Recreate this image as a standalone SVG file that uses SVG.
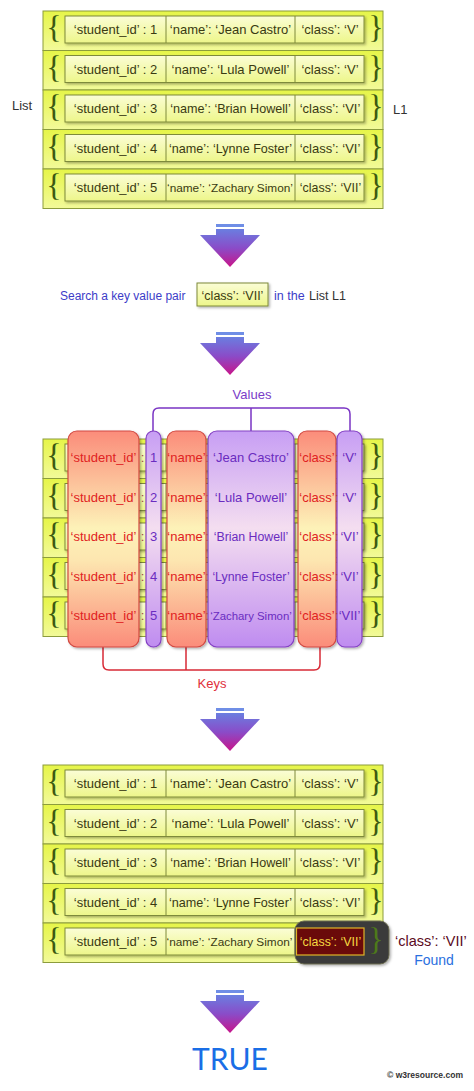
<svg xmlns="http://www.w3.org/2000/svg" width="474" height="1091" viewBox="0 0 474 1091">
<defs>
<linearGradient id="gRow" x1="0" y1="0" x2="0" y2="1"><stop offset="0" stop-color="#e6f548"/><stop offset="1" stop-color="#f2fa9a"/></linearGradient>
<linearGradient id="gCell" x1="0" y1="0" x2="0" y2="1"><stop offset="0" stop-color="#fbfdd6"/><stop offset="1" stop-color="#edf68a"/></linearGradient>
<linearGradient id="gArrow" x1="0" y1="0" x2="0" y2="1"><stop offset="0" stop-color="#6a7ee0"/><stop offset="0.5" stop-color="#8a4cc8"/><stop offset="1" stop-color="#c8148a"/></linearGradient>
<linearGradient id="gKey" x1="0" y1="0" x2="0" y2="1"><stop offset="0" stop-color="#fb8c7a"/><stop offset="0.45" stop-color="#fdf2b8"/><stop offset="0.6" stop-color="#fde6b0"/><stop offset="1" stop-color="#fb8c7a"/></linearGradient>
<linearGradient id="gVal" x1="0" y1="0" x2="0" y2="1"><stop offset="0" stop-color="#c79ef4"/><stop offset="0.45" stop-color="#f4def0"/><stop offset="1" stop-color="#bf8cf0"/></linearGradient>
<filter id="sh" x="-10%" y="-10%" width="130%" height="140%"><feDropShadow dx="1.5" dy="1.5" stdDeviation="1.2" flood-color="#000" flood-opacity="0.3"/></filter>
<g id="arrow">
<rect x="216" y="0" width="28" height="3" fill="#6f8ee6"/>
<path d="M216,5 H244 V11 H260 L230,43 L200,11 H216 Z" fill="url(#gArrow)"/>
</g>
<g id="rowbg">
<rect class="row" x="43" y="0" width="340" height="39.5"/>
<rect class="cell" x="65" y="5" width="299" height="27" filter="url(#sh)"/>
<line class="dv" x1="166" y1="5" x2="166" y2="32"/>
<line class="dv" x1="295" y1="5" x2="295" y2="32"/>
<text class="br" x="54" y="27">{</text>
<text class="br" x="376" y="27">}</text>
</g>
</defs>
<style>
text{font-family:"Liberation Sans",Arial,sans-serif;font-size:13px}
.row{fill:url(#gRow);stroke:#8c9c3c;stroke-width:1}
.cell{fill:url(#gCell);stroke:#7e8a3a;stroke-width:1}
.dv{stroke:#7e8a3a;stroke-width:1}
.br{font-family:"Liberation Serif","Times New Roman",serif;font-size:32px;fill:#3c5a12;text-anchor:middle}
.t{fill:#3a3a12;text-anchor:middle}
.sm{font-size:11.8px}
.lbl{fill:#333}
.blue{fill:#3c3cc8}
.key{fill:url(#gKey);stroke:#d24a42;stroke-width:1.2}
.val{fill:url(#gVal);stroke:#8440c4;stroke-width:1.2}
.kt{fill:#e02222;text-anchor:middle}
.vt{fill:#6a2cc0;text-anchor:middle}
.cl{fill:#a04848;text-anchor:middle}
.kb{fill:none;stroke:#d82a36;stroke-width:1.5}
.vb{fill:none;stroke:#7a34c4;stroke-width:1.5}
</style>

<g id="list1">
<g id="r1-1" transform="translate(0,11)"><use href="#rowbg"/><text class="t" x="115.5" y="23">‘student_id’ : 1</text><text class="t" x="230.5" y="23">‘name’: ‘Jean Castro’</text><text class="t" x="330" y="23">‘class’: ‘V’</text></g>
<g id="r1-2" transform="translate(0,50.5)"><use href="#rowbg"/><text class="t" x="115.5" y="23">‘student_id’ : 2</text><text class="t" x="230.5" y="23">‘name’: ‘Lula Powell’</text><text class="t" x="330" y="23">‘class’: ‘V’</text></g>
<g id="r1-3" transform="translate(0,90)"><use href="#rowbg"/><text class="t" x="115.5" y="23">‘student_id’ : 3</text><text class="t" x="230.5" y="23" style="font-size:12.6px">‘name’: ‘Brian Howell’</text><text class="t" x="330" y="23">‘class’: ‘VI’</text></g>
<g id="r1-4" transform="translate(0,129.5)"><use href="#rowbg"/><text class="t" x="115.5" y="23">‘student_id’ : 4</text><text class="t" x="230.5" y="23" style="font-size:12.6px">‘name’: ‘Lynne Foster’</text><text class="t" x="330" y="23">‘class’: ‘VI’</text></g>
<g id="r1-5" transform="translate(0,169)"><use href="#rowbg"/><text class="t" x="115.5" y="23">‘student_id’ : 5</text><text class="t sm" x="230" y="23">‘name’: ‘Zachary Simon’</text><text class="t" x="330.5" y="23" style="font-size:12.4px">‘class’: ‘VII’</text></g>
<text id="lblList" class="lbl" x="12" y="110">List</text>
<text id="lblL1" class="lbl" x="393" y="114">L1</text>
</g>

<g id="connectors">
<use href="#arrow" transform="translate(0,224)"/>
<use href="#arrow" transform="translate(0,332)"/>
<use href="#arrow" transform="translate(0,708)"/>
<use href="#arrow" transform="translate(0,990)"/>
<path class="vb" d="M153,432 V414 Q153,408 159,408 H344 Q350,408 350,414 V432 M251,408 V432"/>
<path class="kb" d="M103,647 V664 Q103,670 109,670 H314 Q320,670 320,664 V647 M186,647 V670"/>
</g>

<g id="search">
<text class="blue" x="60" y="300" style="font-size:12px">Search a key value pair</text>
<rect x="197" y="283" width="71" height="23" fill="url(#gCell)" stroke="#7e8a3a" filter="url(#sh)"/>
<text class="t" x="232.5" y="299.5" style="font-size:12.5px">‘class’: ‘VII’</text>
<text class="blue" x="274" y="300" style="font-size:12.5px">in the</text>
<text class="lbl" x="309" y="300" style="font-size:12.5px">List L1</text>
</g>

<g id="split">
<use href="#rowbg" transform="translate(0,439)"/>
<use href="#rowbg" transform="translate(0,478.5)"/>
<use href="#rowbg" transform="translate(0,518)"/>
<use href="#rowbg" transform="translate(0,557.5)"/>
<use href="#rowbg" transform="translate(0,597)"/>
<g id="colKey1"><rect class="key" x="68" y="431" width="71" height="216" rx="9" filter="url(#sh)"/></g>
<g id="colVal1"><rect class="val" x="146" y="431" width="15" height="216" rx="7.5" filter="url(#sh)"/></g>
<g id="colKey2"><rect class="key" x="167" y="431" width="39" height="216" rx="9" filter="url(#sh)"/></g>
<g id="colVal2"><rect class="val" x="208" y="431" width="86" height="216" rx="9" filter="url(#sh)"/></g>
<g id="colKey3"><rect class="key" x="298" y="431" width="38" height="216" rx="9" filter="url(#sh)"/></g>
<g id="colVal3"><rect class="val" x="337" y="431" width="25" height="216" rx="8" filter="url(#sh)"/></g>
<g id="splitText">
<text class="kt" x="103.5" y="462">‘student_id’</text><text class="cl" x="142.5" y="462">:</text><text class="vt" x="153.5" y="462">1</text><text class="kt" x="186.5" y="462">‘name’</text><text class="cl" x="207" y="462">:</text><text class="vt" x="251" y="462">‘Jean Castro’</text><text class="kt" x="317" y="462">‘class’</text><text class="cl" x="336.5" y="462">:</text><text class="vt" x="349.5" y="462">‘V’</text>
<text class="kt" x="103.5" y="501.5">‘student_id’</text><text class="cl" x="142.5" y="501.5">:</text><text class="vt" x="153.5" y="501.5">2</text><text class="kt" x="186.5" y="501.5">‘name’</text><text class="cl" x="207" y="501.5">:</text><text class="vt" x="251" y="501.5">‘Lula Powell’</text><text class="kt" x="317" y="501.5">‘class’</text><text class="cl" x="336.5" y="501.5">:</text><text class="vt" x="349.5" y="501.5">‘V’</text>
<text class="kt" x="103.5" y="541">‘student_id’</text><text class="cl" x="142.5" y="541">:</text><text class="vt" x="153.5" y="541">3</text><text class="kt" x="186.5" y="541">‘name’</text><text class="cl" x="207" y="541">:</text><text class="vt" x="251" y="541" style="font-size:12.3px">‘Brian Howell’</text><text class="kt" x="317" y="541">‘class’</text><text class="cl" x="336.5" y="541">:</text><text class="vt" x="349.5" y="541">‘VI’</text>
<text class="kt" x="103.5" y="580.5">‘student_id’</text><text class="cl" x="142.5" y="580.5">:</text><text class="vt" x="153.5" y="580.5">4</text><text class="kt" x="186.5" y="580.5">‘name’</text><text class="cl" x="207" y="580.5">:</text><text class="vt" x="251" y="580.5" style="font-size:12.3px">‘Lynne Foster’</text><text class="kt" x="317" y="580.5">‘class’</text><text class="cl" x="336.5" y="580.5">:</text><text class="vt" x="349.5" y="580.5">‘VI’</text>
<text class="kt" x="103.5" y="620">‘student_id’</text><text class="cl" x="142.5" y="620">:</text><text class="vt" x="153.5" y="620">5</text><text class="kt" x="186.5" y="620">‘name’</text><text class="cl" x="207" y="620">:</text><text class="vt" x="251" y="620" style="font-size:11.4px">‘Zachary Simon’</text><text class="kt" x="317" y="620">‘class’</text><text class="cl" x="336.5" y="620">:</text><text class="vt" x="349.5" y="620">‘VII’</text>
</g>
<text id="lblValues" x="252" y="399" fill="#7a3cc8" text-anchor="middle">Values</text>
<text id="lblKeys" x="212" y="688" fill="#e0303a" text-anchor="middle">Keys</text>
</g>

<g id="list2">
<g id="r2-1" transform="translate(0,765)"><use href="#rowbg"/><text class="t" x="115.5" y="23">‘student_id’ : 1</text><text class="t" x="230.5" y="23">‘name’: ‘Jean Castro’</text><text class="t" x="330" y="23">‘class’: ‘V’</text></g>
<g id="r2-2" transform="translate(0,804.5)"><use href="#rowbg"/><text class="t" x="115.5" y="23">‘student_id’ : 2</text><text class="t" x="230.5" y="23">‘name’: ‘Lula Powell’</text><text class="t" x="330" y="23">‘class’: ‘V’</text></g>
<g id="r2-3" transform="translate(0,844)"><use href="#rowbg"/><text class="t" x="115.5" y="23">‘student_id’ : 3</text><text class="t" x="230.5" y="23" style="font-size:12.6px">‘name’: ‘Brian Howell’</text><text class="t" x="330" y="23">‘class’: ‘VI’</text></g>
<g id="r2-4" transform="translate(0,883.5)"><use href="#rowbg"/><text class="t" x="115.5" y="23">‘student_id’ : 4</text><text class="t" x="230.5" y="23" style="font-size:12.6px">‘name’: ‘Lynne Foster’</text><text class="t" x="330" y="23">‘class’: ‘VI’</text></g>
<g id="r2-5" transform="translate(0,923)"><use href="#rowbg"/><text class="t" x="115.5" y="23">‘student_id’ : 5</text><text class="t sm" x="229.5" y="23">‘name’: ‘Zachary Simon’</text></g>
<g id="found">
<rect x="295" y="921" width="94" height="43" rx="9" fill="#3a3a3a" stroke="#6a6a50" filter="url(#sh)"/>
<rect x="296.5" y="928" width="67.5" height="27" fill="#6a0a0a" stroke="#e0b428" stroke-width="1.2"/>
<text x="330.5" y="946" fill="#f6d840" text-anchor="middle" style="font-size:12.4px">‘class’: ‘VII’</text>
<text class="br" x="376" y="950" style="fill:#4e7a1a">}</text>
</g>
<text x="395" y="946" fill="#5a0a22" style="font-size:14.5px">‘class’: ‘VII’</text>
<text x="434" y="965" fill="#2a70e0" text-anchor="middle" style="font-size:14px">Found</text>
</g>

<text id="result" x="230" y="1070" fill="#1a6ee6" text-anchor="middle" style="font-size:30px;font-family:Lato,'Open Sans',sans-serif">TRUE</text>
<text id="credit" x="387" y="1078" fill="#333" textLength="76" lengthAdjust="spacingAndGlyphs" style="font-size:9px;font-weight:bold">© w3resource.com</text>
</svg>
